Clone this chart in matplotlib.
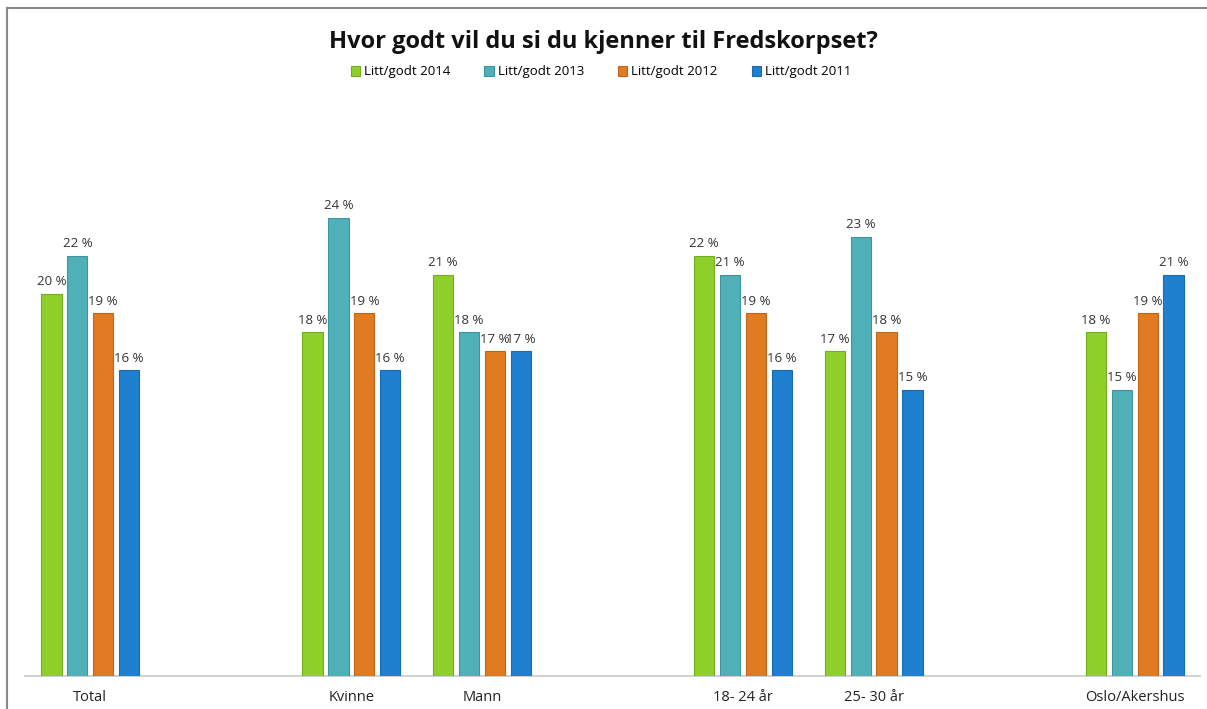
import matplotlib as mpl
mpl.use('Agg')

import matplotlib.pyplot as plt
from matplotlib.lines import Line2D
import numpy

# %% data
categories = ['Total', '', 'Kvinne', 'Mann', '', '18- 24 år', '25- 30 år', '', 'Oslo/Akershus']
series     = ['Litt/godt 2014', 'Litt/godt 2013', 'Litt/godt 2012', 'Litt/godt 2011']

v2014 = [20, None, 18, 21, None, 22, 17, None, 18]
v2013 = [22, None, 24, 18, None, 21, 23, None, 15]
v2012 = [19, None, 19, 17, None, 19, 18, None, 19]
v2011 = [16, None, 16, 17, None, 16, 15, None, 21]

colors = ['#8fcf2a', '#4fb0b8', '#e07b22', '#1f80cf']
edges  = ['#76ad20', '#3f959c', '#c0661a', '#196cb0']

# %% plot
plt.rcParams['font.family'] = ['Open Sans', 'DejaVu Sans']

fig = plt.figure(figsize=[12.07, 7.09], dpi=100)
ax = fig.add_axes([25/1207, 1-676/709, 1175/1207, 573/709])

x = numpy.arange(len(categories))
width = 0.155
step  = 0.198

for n, vals in enumerate([v2014, v2013, v2012, v2011]):
    xs = [x[i] + (n - 1.5)*step for i in range(len(vals)) if vals[i] is not None]
    hs = [v for v in vals if v is not None]
    bars = ax.bar(xs, hs, width, color=colors[n], edgecolor=edges[n],
                  linewidth=0.8, label=series[n], zorder=3)
    ax.bar_label(bars, labels=['{} %'.format(v) for v in hs], padding=4,
                 fontsize=9.5, color='#333333')

ax.set_xlim(-0.5, len(categories)-0.5)
ax.set_ylim(0, 30)
ax.set_xticks(x)
ax.set_xticklabels(categories, fontsize=10.5, color='#222222')
ax.tick_params(axis='x', length=0, pad=10)
ax.set_yticks([])
for s in ['top', 'right', 'left']:
    ax.spines[s].set_visible(False)
ax.spines['bottom'].set_color('#c8c8c8')
ax.spines['bottom'].set_linewidth(1.2)

fig.text(0.5, 1-42/709, 'Hvor godt vil du si du kjenner til Fredskorpset?',
         ha='center', va='center', fontsize=17, fontweight='bold', color='#111111')

fig.legend(loc='center', bbox_to_anchor=(0.498, 1-72/709), ncol=4, frameon=False,
           fontsize=9.5, handlelength=0.7, handleheight=0.7, handletextpad=0.3,
           columnspacing=2.6)

# frame lines
fig.add_artist(Line2D([7/1207, 1], [1-8/709, 1-8/709], color='#8a8a8a', linewidth=1.5))
fig.add_artist(Line2D([7/1207, 7/1207], [0, 1-8/709], color='#8a8a8a', linewidth=1.5))

plt.savefig('out.png', dpi=100)
